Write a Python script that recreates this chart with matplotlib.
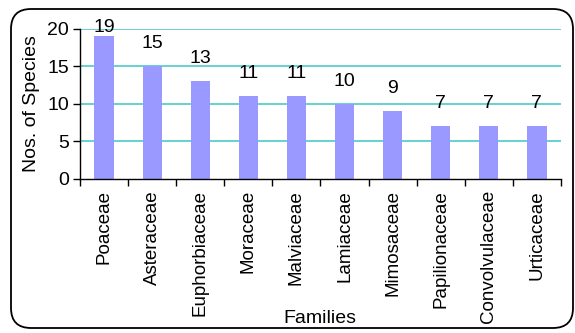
import numpy as np
import matplotlib
matplotlib.use("Agg")
from matplotlib import pyplot as plt
from matplotlib.patches import FancyBboxPatch

# species count per plant family
families = ["Poaceae", "Asteraceae", "Euphorbiaceae", "Moraceae", "Malviaceae",
            "Lamiaceae", "Mimosaceae", "Papilionaceae", "Convolvulaceae", "Urticaceae"]
species = [19, 15, 13, 11, 11, 10, 9, 7, 7, 7]

plt.rcParams["font.family"] = ["Liberation Sans", "DejaVu Sans"]
plt.rcParams["font.size"] = 14

fig = plt.figure(figsize=(5.75, 3.33), dpi=100)
ax = fig.add_axes([0.1391, 0.4625, 0.8365, 0.4505])

x = np.arange(len(families))
ax.bar(x, species, width=0.4, color="#9999ff", zorder=3)

# value labels, kept inside the top of the plot
for xi, v in zip(x, species):
    ax.text(xi, min(v + 2.4, 19.6), str(v), ha="center", va="baseline", fontsize=14)

ax.set_ylim(0, 20)
ax.set_xlim(-0.5, len(families) - 0.5)
ax.set_yticks([0, 5, 10, 15, 20])
ax.set_yticklabels(["0", "5", "10", "15", "20"], fontsize=14)
for g in [5, 10, 15, 20]:
    ax.axhline(g, color="#4cc9c9", linewidth=1.2, zorder=0)

ax.set_xticks(x)
ax.set_xticklabels(families, rotation=90, va="top", ha="center", fontsize=13.5)
ax.tick_params(axis="x", length=0, pad=8)
ax.set_xticks(np.arange(len(families) + 1) - 0.5, minor=True)
ax.tick_params(axis="x", which="minor", length=5, width=1, color="black")
ax.tick_params(axis="y", length=5, width=1, pad=3)

for s in ["top", "right"]:
    ax.spines[s].set_visible(False)
for s in ["left", "bottom"]:
    ax.spines[s].set_color("black")
    ax.spines[s].set_linewidth(1)
    ax.spines[s].set_zorder(4)

ax.set_ylabel("Nos. of Species", fontsize=14, labelpad=5)
fig.text(0.557, 0.03, "Families", ha="center", va="baseline", fontsize=14)

# rounded chart border
border = FancyBboxPatch((11, 5), 562, 319, boxstyle="round,pad=0,rounding_size=20",
                        transform=None, fill=False, edgecolor="black", linewidth=1.3)
fig.patches.append(border)

fig.savefig("out.png", dpi=100)
